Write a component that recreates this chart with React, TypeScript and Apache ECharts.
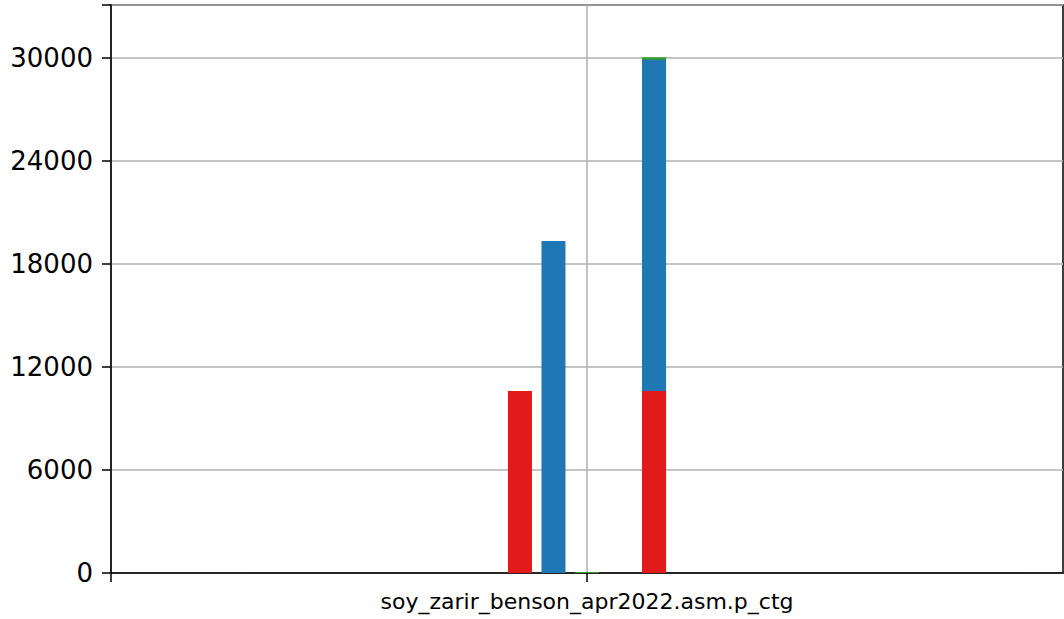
import React, { useEffect, useRef } from "react";
import * as echarts from "echarts";

const categoryLabel = "soy_zarir_benson_apr2022.asm.p_ctg";
const yTicks = [0, 6000, 12000, 18000, 24000, 30000];
const colors = { red: "#e31a1c", blue: "#1f78b4", green: "#33a02c" };

// single bars: [position, value]
const redSingle = [[-2, 10600]];
const blueSingle = [[-1, 19340]];
const greenSingle = [[0, 60]];
// stacked bar segments at position 2 (bottom to top)
const stackPos = 2;
const redStack = [10600];
const blueStack = [19290];
const greenStack = [150];

const X_MIN = -14.2;
const X_MAX = 14.2;
const Y_MAX = 33080;

export default function App() {
  const ref = useRef<HTMLDivElement>(null);
  useEffect(() => {
    const chart = echarts.init(ref.current!, null, { renderer: "svg" });
    const barBase = { type: "bar", barWidth: 24, barGap: "-100%", silent: true };
    // cumulative tops of the stacked bar, drawn largest first so lower segments overlay
    const topRed = redStack.map((v) => [stackPos, v]);
    const topBlue = redStack.map((v, i) => [stackPos, v + blueStack[i]]);
    const topGreen = redStack.map((v, i) => [stackPos, v + blueStack[i] + greenStack[i]]);
    chart.setOption({
      animation: false,
      textStyle: { fontFamily: "DejaVu Sans" },
      grid: {
        left: 111, top: 5, right: 1, bottom: 46,
        show: true, borderColor: "#000", borderWidth: 1.5, backgroundColor: "#fff",
      },
      xAxis: {
        type: "value", min: X_MIN, max: X_MAX, interval: X_MAX,
        axisLine: { show: true, onZero: false, lineStyle: { color: "#000", width: 1.5 } },
        axisTick: { show: true, length: 9, customValues: [X_MIN, 0], lineStyle: { color: "#000", width: 1.5 } },
        axisLabel: {
          customValues: [0],
          formatter: (v: number) => (Math.abs(v) < 1e-9 ? categoryLabel : ""),
          color: "#000", fontSize: 22, margin: 17,
        },
        splitLine: { show: true, lineStyle: { color: "#b0b0b0", width: 1.5 } },
      },
      yAxis: {
        type: "value", min: 0, max: Y_MAX, interval: 6000,
        axisLine: { show: true, onZero: false, lineStyle: { color: "#000", width: 1.5 } },
        axisTick: { show: true, length: 9, lineStyle: { color: "#000", width: 1.5 } },
        axisLabel: {
          color: "#000", fontSize: 26, margin: 18,
          formatter: (v: number) => (yTicks.includes(v) ? String(v) : ""),
        },
        splitLine: { show: true, lineStyle: { color: "#b0b0b0", width: 1.5 } },
      },
      series: [
        { ...barBase, name: "red", data: redSingle, itemStyle: { color: colors.red } },
        { ...barBase, name: "blue", data: blueSingle, itemStyle: { color: colors.blue } },
        { ...barBase, name: "green", data: greenSingle, itemStyle: { color: colors.green } },
        { ...barBase, name: "greenS", data: topGreen, itemStyle: { color: colors.green } },
        { ...barBase, name: "blueS", data: topBlue, itemStyle: { color: colors.blue } },
        { ...barBase, name: "redS", data: topRed, itemStyle: { color: colors.red } },
      ],
    });
    return () => chart.dispose();
  }, []);
  return (
    <div
      ref={ref}
      style={{ position: "absolute", left: 0, top: 0, width: 1064, height: 619 }}
    />
  );
}
